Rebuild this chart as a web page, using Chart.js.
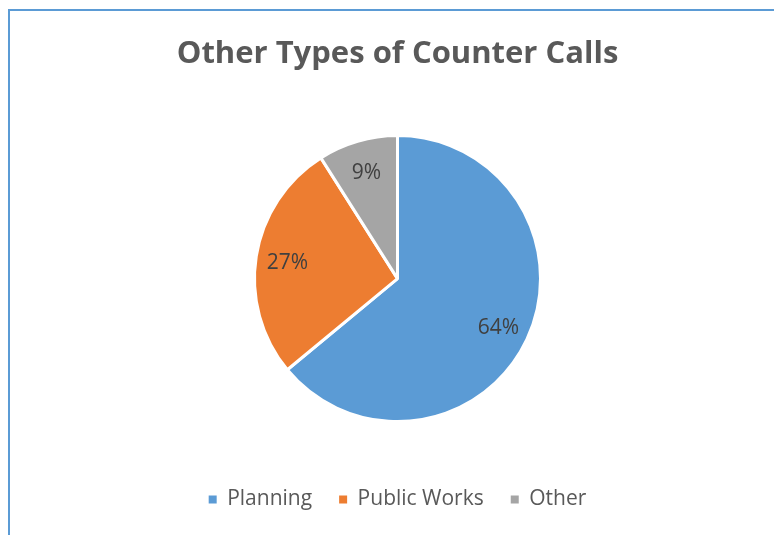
<!DOCTYPE html>
<html>
<head>
<meta charset="utf-8">
<script src="https://cdn.jsdelivr.net/npm/chart.js@4/dist/chart.umd.min.js"></script>
<style>
    html, body { margin: 0; padding: 0; background: #fff; }
    .wrap { position: relative; width: 774px; height: 535px; }
    .frame {
        position: absolute; left: 8px; top: 9px; right: 0; bottom: 0;
        border-top: 2px solid #5b9bd5; border-left: 2px solid #5b9bd5;
        pointer-events: none;
    }
</style>
</head>
<body>
<div class="wrap">
    <canvas id="pieChart" width="774" height="535"></canvas>
    <div class="frame"></div>
</div>
<script>
const categories = ['Planning', 'Public Works', 'Other'];
const shares = [64, 27, 9];
const sliceColors = ['#5b9bd5', '#ed7d31', '#a5a5a5'];

// percentage labels drawn inside each slice, like Excel's data labels
const sliceLabels = {
    id: 'sliceLabels',
    afterDatasetsDraw(chart) {
        const ctx = chart.ctx;
        const meta = chart.getDatasetMeta(0);
        const total = shares.reduce((a, b) => a + b, 0);
        ctx.save();
        ctx.font = '21px "Open Sans"';
        ctx.fillStyle = '#404040';
        ctx.textAlign = 'center';
        ctx.textBaseline = 'middle';
        meta.data.forEach((arc, i) => {
            const p = arc.getProps(['x', 'y', 'startAngle', 'endAngle', 'outerRadius'], true);
            const mid = (p.startAngle + p.endAngle) / 2;
            const r = p.outerRadius * 0.78;
            const pct = Math.round(shares[i] / total * 100) + '%';
            ctx.fillText(pct, p.x + Math.cos(mid) * r, p.y + Math.sin(mid) * r + 2);
        });
        ctx.restore();
    }
};

document.addEventListener('DOMContentLoaded', () => {
    const ctx = document.getElementById('pieChart').getContext('2d');
    new Chart(ctx, {
        type: 'pie',
        data: {
            labels: categories,
            datasets: [{
                data: shares,
                backgroundColor: sliceColors,
                borderColor: '#ffffff',
                borderWidth: 3,
                radius: 143
            }]
        },
        options: {
            responsive: false,
            animation: false,
            layout: { padding: { left: 21, right: 0, top: 0, bottom: 15 } },
            plugins: {
                title: {
                    display: true,
                    text: 'Other Types of Counter Calls',
                    color: '#595959',
                    font: { family: 'Open Sans', size: 31, weight: 'bold' },
                    padding: { top: 36, bottom: 22 }
                },
                legend: {
                    position: 'bottom',
                    labels: {
                        color: '#595959',
                        font: { family: 'Open Sans', size: 21 },
                        boxWidth: 8,
                        boxHeight: 8,
                        padding: 27,
                        generateLabels(chart) {
                            const items = Chart.overrides.pie.plugins.legend.labels.generateLabels(chart);
                            items.forEach(it => { it.lineWidth = 0; });
                            return items;
                        }
                    }
                },
                tooltip: { enabled: false }
            }
        },
        plugins: [sliceLabels]
    });
});
</script>
</body>
</html>
